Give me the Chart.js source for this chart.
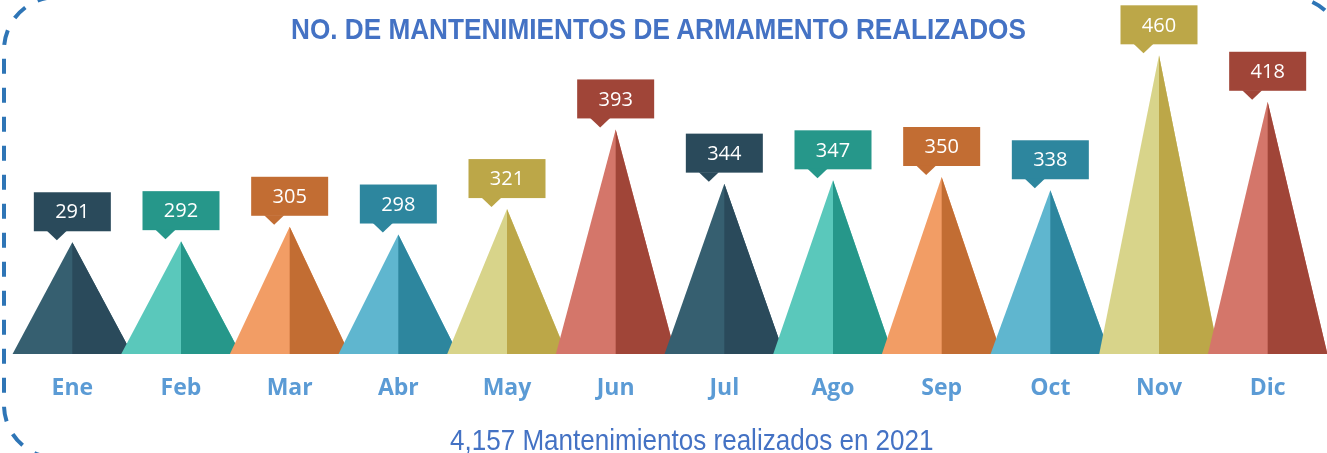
<!DOCTYPE html>
<html lang="es">
<head>
    <meta charset="UTF-8">
    <title>Mantenimientos de armamento</title>
    <style>
        body { margin: 0; background: #ffffff; }
        .janela { position: relative; width: 1327px; height: 453px; overflow: hidden; }
        #grafico { position: absolute; left: 0; top: 0; }
        .titulo {
            position: absolute; left: 291px; top: 14px; margin: 0;
            font-family: "Liberation Sans", Arial, sans-serif; font-weight: bold;
            font-size: 30px; line-height: 30px; color: #4472c4; white-space: nowrap;
            transform: scaleX(0.872); transform-origin: left top;
        }
        .subtitulo {
            position: absolute; left: 450px; top: 426px; margin: 0;
            font-family: "Liberation Sans", Arial, sans-serif; font-weight: normal;
            font-size: 29px; line-height: 29px; color: #4472c4; white-space: nowrap;
            transform: scaleX(0.898); transform-origin: left top;
        }
    </style>
</head>
<body>
<div class="janela">
    <canvas id="grafico" width="1327" height="453"></canvas>
    <h1 class="titulo">NO. DE MANTENIMIENTOS DE ARMAMENTO REALIZADOS</h1>
    <p class="subtitulo" id="subtitulo"></p>
</div>

<script src="https://cdn.jsdelivr.net/npm/chart.js"></script>
<script>
// meses y mantenimientos del año
const meses = ['Ene', 'Feb', 'Mar', 'Abr', 'May', 'Jun', 'Jul', 'Ago', 'Sep', 'Oct', 'Nov', 'Dic'];
const mantenimientos = [291, 292, 305, 298, 321, 393, 344, 347, 350, 338, 460, 418];
const anio = 2021;

// rango del eje vertical (oculto)
const ejeMin = 190;
const ejeMax = 510;

// cara iluminada / cara en sombra de cada pirámide
const tonosClaros = ['#365f70', '#5ac8bb', '#f29d65', '#5fb6cf', '#d8d48a', '#d4766a',
                     '#365f70', '#5ac8bb', '#f29d65', '#5fb6cf', '#d8d48a', '#d4766a'];
const tonosOscuros = ['#2a4a5b', '#26978a', '#c26d33', '#2d869e', '#bca748', '#a04538',
                      '#2a4a5b', '#26978a', '#c26d33', '#2d869e', '#bca748', '#a04538'];

const total = mantenimientos.reduce((a, b) => a + b, 0);
document.getElementById('subtitulo').textContent =
    `${total.toLocaleString('en-US')} Mantenimientos realizados en ${anio}`;

// marco punteado con esquinas redondeadas; la esquina inferior derecha queda fuera
const marco = {
    id: 'marco',
    beforeDraw(chart) {
        const ctx = chart.ctx;
        const x0 = 4, y0 = -3, x1 = 1343, y1 = 458, r = 53;
        ctx.save();
        ctx.strokeStyle = '#2e75b6';
        ctx.lineWidth = 4;
        ctx.setLineDash([15, 14]);
        ctx.beginPath();
        ctx.moveTo(x1, y1 + 40);
        ctx.lineTo(x1, y0 + r);
        ctx.arcTo(x1, y0, x1 - r, y0, r);
        ctx.lineTo(x0 + r, y0);
        ctx.arcTo(x0, y0, x0, y0 + r, r);
        ctx.lineTo(x0, y1 - r);
        ctx.arcTo(x0, y1, x0 + r, y1, r);
        ctx.lineTo(x1, y1);
        ctx.stroke();
        ctx.restore();
    }
};

// cada barra se dibuja como pirámide de dos caras con su etiqueta encima
const piramides = {
    id: 'piramides',
    afterDatasetsDraw(chart) {
        const ctx = chart.ctx;
        const meta = chart.getDatasetMeta(0);

        meta.data.forEach((barra, i) => {
            const x = barra.x;
            const topo = barra.y;
            const base = barra.base;
            const meio = barra.width * 0.55;

            ctx.save();
            ctx.fillStyle = tonosClaros[i];
            ctx.beginPath();
            ctx.moveTo(x - meio, base);
            ctx.lineTo(x, topo);
            ctx.lineTo(x + meio, base);
            ctx.closePath();
            ctx.fill();

            ctx.fillStyle = tonosOscuros[i];
            ctx.beginPath();
            ctx.moveTo(x, topo);
            ctx.lineTo(x + meio, base);
            ctx.lineTo(x, base);
            ctx.closePath();
            ctx.fill();
            ctx.restore();
        });

        meta.data.forEach((barra, i) => {
            const w = 77, h = 39;
            const bx = barra.x - w / 2;
            const by = barra.y - 11 - h;

            ctx.save();
            ctx.fillStyle = tonosOscuros[i];
            ctx.fillRect(bx, by, w, h);
            ctx.beginPath();
            ctx.moveTo(bx + 13, by + h - 0.5);
            ctx.lineTo(bx + 33, by + h - 0.5);
            ctx.lineTo(bx + 23, by + h + 9);
            ctx.closePath();
            ctx.fill();

            ctx.fillStyle = '#ffffff';
            ctx.font = '20px "Open Sans", "Noto Sans", sans-serif';
            ctx.textAlign = 'center';
            ctx.textBaseline = 'middle';
            ctx.fillText(String(mantenimientos[i]), barra.x, by + h / 2 + 1);
            ctx.restore();
        });
    }
};

const config = {
    type: 'bar',
    data: {
        labels: meses,
        datasets: [{
            label: 'Mantenimientos',
            data: mantenimientos,
            base: ejeMin,
            backgroundColor: 'rgba(0,0,0,0)',
            borderWidth: 0,
            categoryPercentage: 1,
            barPercentage: 1
        }]
    },
    options: {
        responsive: false,
        animation: false,
        events: [],
        layout: { padding: { left: 18, right: 5, top: 0, bottom: 0 } },
        plugins: {
            legend: { display: false },
            tooltip: { enabled: false },
            title: { display: false }
        },
        scales: {
            x: {
                grid: { display: false },
                border: { display: false },
                ticks: {
                    color: '#5b9bd5',
                    font: { family: '"Open Sans", "Noto Sans", sans-serif', size: 23, weight: 'bold' },
                    padding: 13,
                    maxRotation: 0,
                    autoSkip: false
                },
                afterFit(escala) { escala.height = 99; }
            },
            y: {
                display: false,
                min: ejeMin,
                max: ejeMax
            }
        }
    },
    plugins: [marco, piramides]
};

let myChart = new Chart(document.getElementById('grafico'), config);
</script>
</body>
</html>
